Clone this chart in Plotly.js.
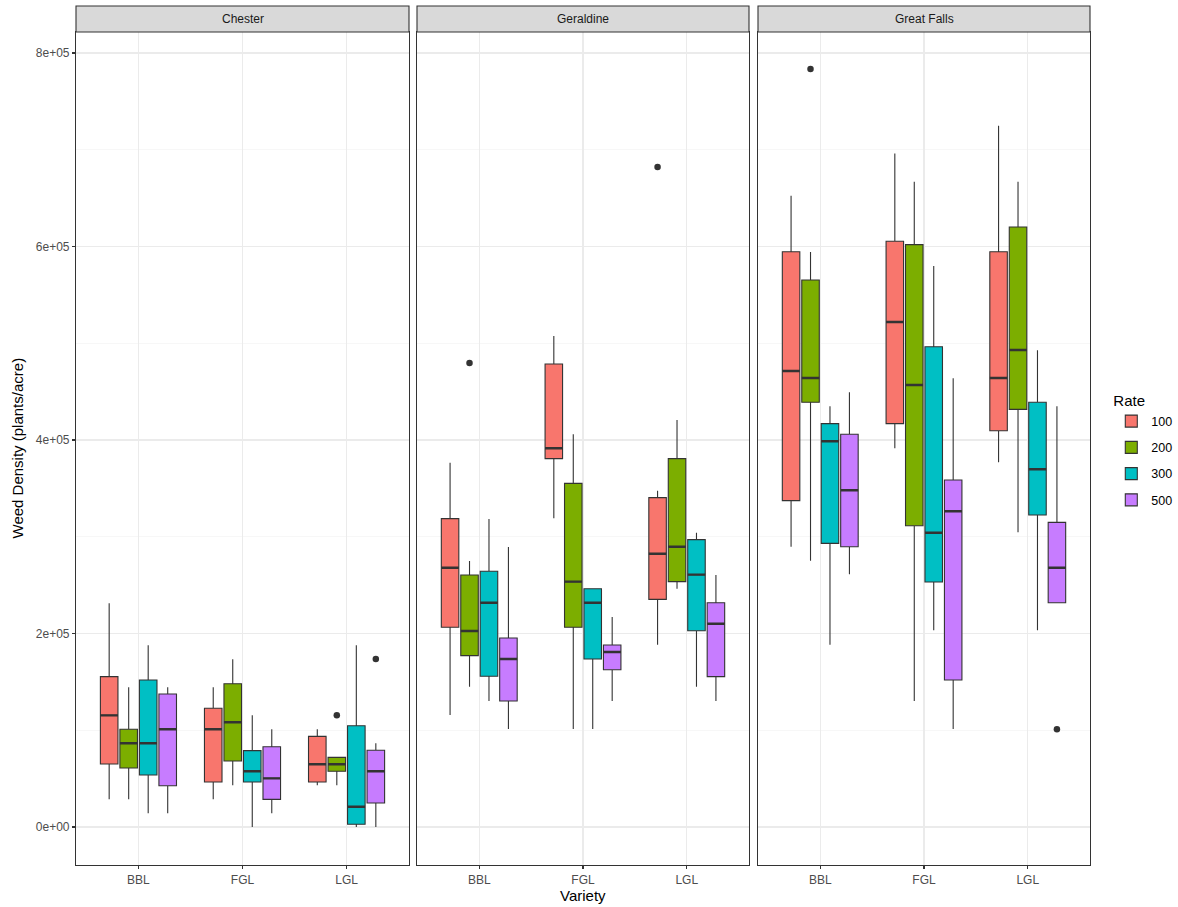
<!DOCTYPE html>
<html><head><meta charset="utf-8">
<script src="https://cdn.plot.ly/plotly-3.0.1.min.js"></script>
<style>html,body{margin:0;padding:0;background:#fff}#chart{width:1178px;height:907px}</style>
</head><body><div id="chart"></div>
<script>
const locations = ['Chester', 'Geraldine', 'Great Falls'];
const varieties = ['BBL', 'FGL', 'LGL'];
const rates = ['100', '200', '300', '500'];
const rateColors = ['#F8766D', '#7CAE00', '#00BFC4', '#C77CFF'];

// rows = rates (100, 200, 300, 500); columns = varieties (BBL, FGL, LGL)
const chesterLower  = [[28600, 28600, 43100], [28600, 43100, 43100], [14100, 0, 0], [14100, 14100, 0]];
const chesterQ1     = [[65100, 46500, 46500], [61000, 68200, 57600], [53700, 46500, 2800], [42700, 28600, 24800]];
const chesterMedian = [[115400, 101000, 64800], [86500, 108200, 64800], [86500, 57600, 21000], [101000, 50300, 57600]];
const chesterQ3     = [[155400, 122700, 93700], [101000, 148100, 72000], [151900, 78900, 104700], [137500, 83000, 79300]];
const chesterUpper  = [[231200, 144400, 101000], [144400, 173300, 72000], [187800, 115400, 187800], [144400, 101000, 86500]];

const geraldineLower  = [[115800, 319000, 188400], [145000, 101300, 246300], [130200, 101300, 145000], [101300, 130200, 130200]];
const geraldineQ1     = [[206400, 380700, 235300], [177100, 206400, 253600], [155800, 173600, 202900], [130200, 162600, 155400]];
const geraldineMedian = [[268000, 391400, 282500], [202600, 253600, 289700], [231800, 231800, 260800], [173600, 180900, 210100]];
const geraldineQ3     = [[318700, 478600, 340400], [260500, 355200, 380700], [264300, 246300, 297000], [195300, 188100, 231800]];
const geraldineUpper  = [[376600, 507500, 347600], [274900, 405900, 420700], [318300, 246300, 304200], [289400, 217000, 260500]];

const greatFallsLower  = [[289700, 391400, 377000], [275300, 130200, 304600], [188400, 203300, 203300], [261200, 101300, 231800]];
const greatFallsQ1     = [[337300, 416900, 409600], [439000, 311400, 431700], [293200, 253200, 322500], [289700, 151900, 231800]];
const greatFallsMedian = [[471300, 522000, 464100], [464100, 456900, 493000], [398700, 304200, 369700], [348000, 326300, 268000]];
const greatFallsQ3     = [[594600, 605400, 594600], [565400, 601900, 620200], [416900, 496400, 439000], [405900, 358700, 314900]];
const greatFallsUpper  = [[652500, 696000, 724900], [594300, 667000, 667000], [434800, 579900, 492700], [449300, 463800, 434800]];

const outlierLocation = ['Chester', 'Chester', 'Geraldine', 'Geraldine', 'Great Falls', 'Great Falls'];
const outlierVariety  = ['LGL', 'LGL', 'BBL', 'LGL', 'BBL', 'LGL'];
const outlierRate     = ['200', '500', '200', '100', '200', '500'];
const outlierValue    = [115400, 173600, 479600, 682200, 783500, 101000];

const yTickVals = [0, 200000, 400000, 600000, 800000];
const yTickText = ['0e+00', '2e+05', '4e+05', '6e+05', '8e+05'];
const yMinorVals = [100000, 300000, 500000, 700000];

const stats = [
  {lower: chesterLower, q1: chesterQ1, med: chesterMedian, q3: chesterQ3, upper: chesterUpper},
  {lower: geraldineLower, q1: geraldineQ1, med: geraldineMedian, q3: geraldineQ3, upper: geraldineUpper},
  {lower: greatFallsLower, q1: greatFallsQ1, med: greatFallsMedian, q3: greatFallsQ3, upper: greatFallsUpper}
];

const xIds = ['x', 'x2', 'x3'];
const yIds = ['y', 'y2', 'y3'];
const catPos = varieties.map((v, i) => i);
const BOXGAP = 0.25, GROUPGAP = 0.1;
const slot = (1 - BOXGAP) / rates.length;

const traces = [];
locations.forEach((loc, li) => {
  const s = stats[li];
  rates.forEach((r, ri) => {
    traces.push({
      type: 'box', xaxis: xIds[li], yaxis: yIds[li], x: catPos,
      q1: s.q1[ri], median: s.med[ri], q3: s.q3[ri],
      lowerfence: s.lower[ri], upperfence: s.upper[ri],
      name: r, legendgroup: r, showlegend: li === 0,
      offsetgroup: r, alignmentgroup: loc,
      fillcolor: rateColors[ri], line: {color: '#333333', width: 1.1},
      whiskerwidth: 0, boxpoints: false, hoverinfo: 'skip'
    });
  });
  // thicker median bars (ggplot fatten)
  rates.forEach((r, ri) => {
    traces.push({
      type: 'box', xaxis: xIds[li], yaxis: yIds[li], x: catPos,
      q1: s.med[ri], median: s.med[ri], q3: s.med[ri],
      lowerfence: s.med[ri], upperfence: s.med[ri],
      name: r, legendgroup: r, showlegend: false,
      offsetgroup: r, alignmentgroup: loc,
      fillcolor: 'rgba(0,0,0,0)', line: {color: '#333333', width: 2.4},
      whiskerwidth: 0, boxpoints: false, hoverinfo: 'skip'
    });
  });
  const ox = [], oy = [];
  outlierValue.forEach((v, k) => {
    if (outlierLocation[k] !== loc) return;
    const ri = rates.indexOf(outlierRate[k]);
    ox.push(varieties.indexOf(outlierVariety[k]) + (ri - (rates.length - 1) / 2) * slot);
    oy.push(v);
  });
  traces.push({
    type: 'scatter', mode: 'markers', xaxis: xIds[li], yaxis: yIds[li],
    x: ox, y: oy, showlegend: false, hoverinfo: 'skip',
    marker: {color: '#333333', size: 6.5}
  });
});

const W = 1178, H = 907;
const M = {l: 76, r: 88, t: 32, b: 42, autoexpand: false};
const plotW = W - M.l - M.r;
const plotH = H - M.t - M.b;
const panelPx = [[76, 409], [417, 749], [758, 1090]];
const stripH = 26;

const font = 'Liberation Sans, Arial, Helvetica, sans-serif';
const layout = {
  width: W, height: H, margin: M,
  paper_bgcolor: '#ffffff', plot_bgcolor: '#ffffff',
  font: {family: font, color: '#000000'},
  boxmode: 'group', boxgap: BOXGAP, boxgroupgap: GROUPGAP,
  hovermode: false,
  showlegend: true,
  legend: {
    x: 1.021, xanchor: 'left', y: 0.497, yanchor: 'middle',
    title: {text: 'Rate', font: {size: 15, color: '#000000', family: font}},
    font: {size: 12.5, color: '#000000', family: font},
    tracegroupgap: 7, itemwidth: 30, bgcolor: 'rgba(0,0,0,0)'
  },
  shapes: [],
  annotations: []
};

const yRange = [-39277, 821700];
locations.forEach((loc, li) => {
  const suffix = li === 0 ? '' : String(li + 1);
  const dom = [(panelPx[li][0] - M.l) / plotW, (panelPx[li][1] - M.l) / plotW];
  layout['xaxis' + suffix] = {
    domain: dom, anchor: yIds[li], range: [-0.6, 2.6],
    tickmode: 'array', tickvals: catPos, ticktext: varieties,
    showgrid: true, gridcolor: '#ebebeb', gridwidth: 1.1,
    zeroline: false, showline: true, mirror: true, linecolor: '#333333', linewidth: 1.1,
    ticks: 'outside', ticklen: 3, tickcolor: '#333333', tickwidth: 1.1,
    tickfont: {size: 12, color: '#4d4d4d', family: font}, fixedrange: true
  };
  layout['yaxis' + suffix] = {
    domain: [0, 1], anchor: xIds[li], range: yRange,
    tickmode: 'array', tickvals: yTickVals, ticktext: yTickText,
    showticklabels: li === 0, ticks: li === 0 ? 'outside' : '', ticklen: 3,
    tickcolor: '#333333', tickwidth: 1.1,
    showgrid: true, gridcolor: '#ebebeb', gridwidth: 1.1,
    minor: {tickvals: yMinorVals, showgrid: true, gridcolor: '#f2f2f2', gridwidth: 0.6, ticks: ''},
    zeroline: false, showline: true, mirror: true, linecolor: '#333333', linewidth: 1.1,
    tickfont: {size: 12, color: '#4d4d4d', family: font}, fixedrange: true
  };
  if (li > 0) layout['yaxis' + suffix].matches = 'y';
  layout.shapes.push({
    type: 'rect', xref: xIds[li] + ' domain', yref: 'paper',
    x0: 0, x1: 1, y0: 1, y1: 1 + stripH / plotH,
    fillcolor: '#d9d9d9', line: {color: '#333333', width: 1.1}, layer: 'above'
  });
  layout.annotations.push({
    xref: xIds[li] + ' domain', yref: 'paper', x: 0.5, y: 1 + stripH / 2 / plotH,
    xanchor: 'center', yanchor: 'middle', text: loc, showarrow: false,
    font: {size: 12, color: '#1a1a1a', family: font}
  });
});

layout.annotations.push({
  xref: 'paper', yref: 'paper', x: 0.5, y: (H - 895 - M.b) / plotH,
  xanchor: 'center', yanchor: 'middle', text: 'Variety', showarrow: false,
  font: {size: 15, color: '#000000', family: font}
});
layout.annotations.push({
  xref: 'paper', yref: 'paper', x: (17 - M.l) / plotW, y: 0.5,
  xanchor: 'center', yanchor: 'middle', text: 'Weed Density (plants/acre)', showarrow: false,
  textangle: -90, font: {size: 15, color: '#000000', family: font}
});

Plotly.newPlot('chart', traces, layout, {displayModeBar: false, staticPlot: true});
</script>
</body></html>
